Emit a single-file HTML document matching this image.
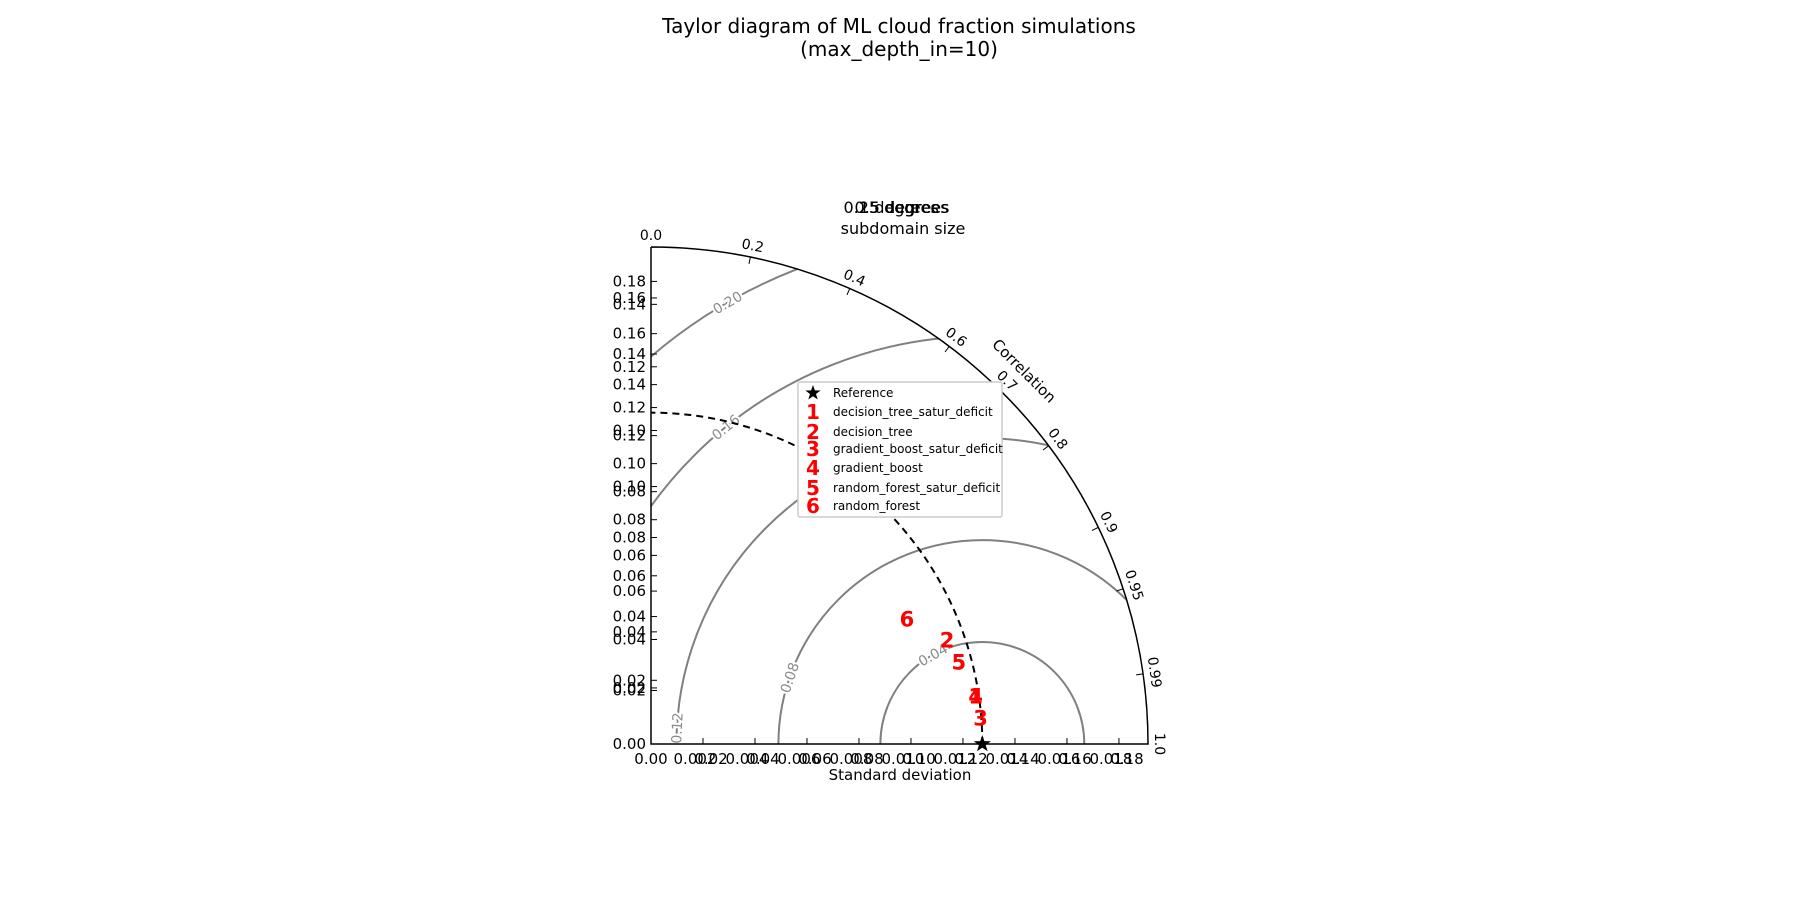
<!DOCTYPE html>
<html><head><meta charset="utf-8">
<style>
html,body{margin:0;background:#fff;overflow:hidden;width:1800px;height:900px;}
svg{display:block;font-family:"DejaVu Sans","Liberation Sans",sans-serif;}
</style></head>
<body>
<svg id="chart" width="1800" height="900" viewBox="0 0 1800 900" xmlns="http://www.w3.org/2000/svg">
<text x="899" y="33" font-size="20" text-anchor="middle">Taylor diagram of ML cloud fraction simulations</text>
<text x="899" y="56" font-size="20" text-anchor="middle">(max_depth_in=10)</text>
<text x="896" y="213" font-size="16" text-anchor="middle">0.25 degrees</text>
<text x="902" y="213" font-size="16" text-anchor="middle">0.5 degrees</text>
<text x="899" y="213" font-size="16" text-anchor="middle">1 degrees</text>
<text x="903" y="234" font-size="16" text-anchor="middle">subdomain size</text>
<g id="plot"></g>
</svg>
<script>
// data
const smax = 0.195;
const refStd = 0.13;
const modelNames = ["decision_tree_satur_deficit","decision_tree","gradient_boost_satur_deficit","gradient_boost","random_forest_satur_deficit","random_forest"];
const modelStd = [0.1288,0.1232,0.1297,0.1288,0.125,0.1118];
const modelCorr = [0.989,0.943,0.9968,0.989,0.966,0.898];
const corrTicks = [0.0,0.2,0.4,0.6,0.7,0.8,0.9,0.95,0.99,1.0];
const corrLabels = ["0.0","0.2","0.4","0.6","0.7","0.8","0.9","0.95","0.99","1.0"];
const rmsLevels = [0.04,0.08,0.12,0.16,0.20];
const rmsLabels = ["0.04","0.08","0.12","0.16","0.20"];
const rmsLabelAngle = [119,161,177,129,120];
const yLabelVals = [0.1815,0.175,0.1725,0.161,0.153,0.148,0.141,0.132,0.123,0.121,0.110,0.101,0.099,0.088,0.081,0.074,0.066,0.060,0.050,0.044,0.041,0.025,0.022,0.021];
const yLabelText = ["0.18","0.16","0.14","0.16","0.14","0.12","0.14","0.12","0.10","0.12","0.10","0.10","0.08","0.08","0.08","0.06","0.06","0.06","0.04","0.04","0.04","0.02","0.02","0.02"];
const xTickStep = 0.0204;
const xLabelA = ["0.02","0.04","0.06","0.08","0.10","0.12","0.14","0.16","0.18"];
const xLabelB = ["0.002","0.004","0.006","0.008","0.010","0.012","0.014","0.016","0.018"];

const NS="http://www.w3.org/2000/svg";
const g=document.getElementById('plot');
const ox=651, oy=744, R=497;
const sc=v=>v/smax*R;
function px(s,c){const t=Math.acos(Math.min(1,c));return [ox+sc(s)*Math.cos(t), oy-sc(s)*Math.sin(t)];}
function mk(tag,attrs,parent){const e=document.createElementNS(NS,tag);for(const k in attrs)e.setAttribute(k,attrs[k]);(parent||g).appendChild(e);return e;}

const defs=mk('defs',{});
const cp=mk('clipPath',{id:'quad'},defs);
mk('path',{d:`M${ox},${oy} L${ox+R},${oy} A${R},${R} 0 0 0 ${ox},${oy-R} Z`},cp);

const rx=ox+sc(refStd);
const cg=mk('g',{'clip-path':'url(#quad)'});
rmsLevels.forEach((v,i)=>{
  const c=mk('circle',{cx:rx,cy:oy,r:sc(v),fill:'none',stroke:'#808080','stroke-width':2},cg);
  
  
});
rmsLevels.forEach((v,i)=>{
  const a=rmsLabelAngle[i]*Math.PI/180;
  const x=rx+sc(v)*Math.cos(a), y=oy-sc(v)*Math.sin(a);
  const t=mk('text',{x:x,y:y+5,'font-size':14,fill:'#8c8c8c','text-anchor':'middle',stroke:'#fff','stroke-width':4,'paint-order':'stroke',transform:`rotate(${90-rmsLabelAngle[i]} ${x} ${y})`});
  t.textContent=rmsLabels[i];
  
  
});

const arc=mk('path',{d:`M${ox+sc(refStd)},${oy} A${sc(refStd)},${sc(refStd)} 0 0 0 ${ox},${oy-sc(refStd)}`,fill:'none',stroke:'#000','stroke-width':2,'stroke-dasharray':'7,5'});



const ax=mk('path',{d:`M${ox},${oy-R} L${ox},${oy} L${ox+R},${oy} A${R},${R} 0 0 0 ${ox},${oy-R}`,fill:'none',stroke:'#000','stroke-width':1.5});



corrTicks.forEach((c,i)=>{
  const t=Math.acos(c);
  const x1=ox+R*Math.cos(t),y1=oy-R*Math.sin(t),x2=ox+(R-7)*Math.cos(t),y2=oy-(R-7)*Math.sin(t);
  mk('line',{x1,y1,x2,y2,stroke:'#000','stroke-width':1});
  const lx=ox+(R+12)*Math.cos(t),ly=oy-(R+12)*Math.sin(t);
  const rot=90-t*180/Math.PI;
  const tx=mk('text',{x:lx,y:ly+5,'font-size':14,'text-anchor':'middle',transform:`rotate(${rot} ${lx} ${ly})`});
  tx.textContent=corrLabels[i];
  
  
});
const cl=mk('text',{x:1024,y:376,'font-size':15,'text-anchor':'middle',transform:'rotate(45 1024 371)'});
cl.textContent='Correlation';



yLabelVals.forEach((v,i)=>{
  const y=oy-sc(v);
  mk('line',{x1:ox,y1:y,x2:ox+6,y2:y,stroke:'#000','stroke-width':1});
  const t=mk('text',{x:ox-5,y:y+5,'font-size':15,'text-anchor':'end'});
  t.textContent=yLabelText[i];
  
  
});
const x0=mk('text',{x:ox,y:oy+20,'font-size':15,'text-anchor':'middle'});x0.textContent='0.00';

const y0=mk('text',{x:ox-5,y:oy+5,'font-size':15,'text-anchor':'end'});y0.textContent='0.00';

for(let k=1;k<=9;k++){
  const x=ox+sc(k*xTickStep);
  mk('line',{x1:x,y1:oy,x2:x,y2:oy-6,stroke:'#000','stroke-width':1});
  const a=mk('text',{x:x+8,y:oy+20,'font-size':15,'text-anchor':'middle'});a.textContent=xLabelA[k-1];
  
  const b=mk('text',{x:x-8,y:oy+20,'font-size':15,'text-anchor':'middle'});b.textContent=xLabelB[k-1];
  
}
const xt=mk('text',{x:900,y:781,'font-size':15,'text-anchor':'middle'});
xt.setAttribute('y','780');
xt.textContent='Standard deviation';



function star(cx,cy,r){let p=[];for(let i=0;i<10;i++){const a=-Math.PI/2+i*Math.PI/5;const rr=i%2?r*0.4:r;p.push((cx+rr*Math.cos(a)).toFixed(1)+','+(cy+rr*Math.sin(a)).toFixed(1));}return p.join(' ');}
const st=mk('polygon',{points:star(rx,oy,9),fill:'#000'});



modelStd.forEach((s,i)=>{
  const [x,y]=px(s,modelCorr[i]);
  const t=mk('text',{x:x,y:y+8,'font-size':21,'font-weight':'bold',fill:'#ff0000','text-anchor':'middle'});
  t.textContent=String(i+1);
  
  
});

const lg=mk('g',{});


mk('rect',{x:798,y:382,width:204,height:135,fill:'#fff',stroke:'#ccc','stroke-width':1.5,rx:2},lg);
const ly=[393,412,432,449,468,488,506];
mk('polygon',{points:star(813,ly[0],8),fill:'#000'},lg);
const rt=mk('text',{x:833,y:ly[0]+4,'font-size':12},lg);rt.textContent='Reference';

modelNames.forEach((n,i)=>{
  const m=mk('text',{x:813,y:ly[i+1]+7,'font-size':20,'font-weight':'bold',fill:'#ff0000','text-anchor':'middle'},lg);
  m.textContent=String(i+1);
  const t=mk('text',{x:833,y:ly[i+1]+4,'font-size':12},lg);
  t.textContent=n;
  
  
});
</script>
</body></html>
